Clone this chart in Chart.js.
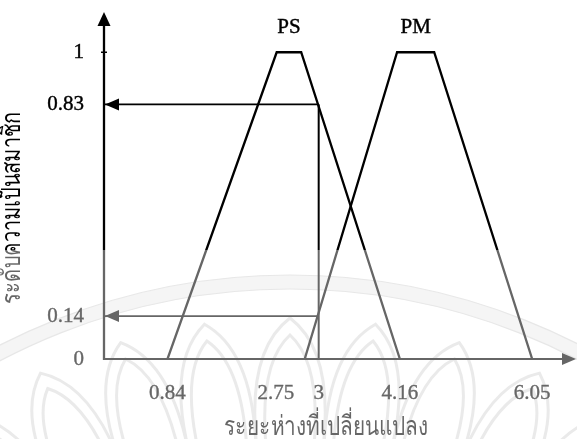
<!DOCTYPE html>
<html>
<head>
<meta charset="utf-8">
<script src="https://cdn.jsdelivr.net/npm/chart.js@4/dist/chart.umd.min.js"></script>
<style>
  html, body { margin: 0; padding: 0; background: #fff; }
  #wrap { width: 577px; height: 439px; }
</style>
</head>
<body>
<div id="wrap"><canvas id="c" width="577" height="439"></canvas></div>
<script>
// Membership functions (x = distance change, mu = degree of membership)
const psX  = [0.84, 2.4, 2.75, 4.16];
const psMu = [0, 1, 1, 0];
const pmX  = [2.8, 4.12, 4.65, 6.05];
const pmMu = [0, 1, 1, 0];
const setNames = ['PS', 'PM'];

// Crisp input and the membership degrees it produces
const inputX = 3;
const inputMu = [0.83, 0.14];

// Axis tick labels and titles
const xTickValues = [0.84, 2.75, 3, 4.16, 6.05];
const yTickValues = [0, 0.14, 0.83, 1];
const xTitle = 'ระยะห่างที่เปลี่ยนแปลง';
const yTitle = 'ระดับความเป็นสมาชิก';

const X_MIN = -0.067, X_MAX = 6.676;
const Y_MIN = 0, Y_MAX = 1.128;
const SERIF = '"Liberation Serif", "Times New Roman", serif';

function pts(xs, ys) { return xs.map((x, i) => ({ x: x, y: ys[i] })); }

const lineBase = { showLine: true, pointRadius: 0, tension: 0, fill: false, borderColor: '#000' };

const datasets = [
  Object.assign({}, lineBase, { label: setNames[0], data: pts(psX, psMu), borderWidth: 2.3 }),
  Object.assign({}, lineBase, { label: setNames[1], data: pts(pmX, pmMu), borderWidth: 2.3 }),
  Object.assign({}, lineBase, { label: 'input', data: [{ x: inputX, y: 0 }, { x: inputX, y: inputMu[0] }], borderWidth: 2 }),
  Object.assign({}, lineBase, { label: 'muPS', data: [{ x: inputX, y: inputMu[0] }, { x: X_MIN, y: inputMu[0] }], borderWidth: 1.7 }),
  Object.assign({}, lineBase, { label: 'muPM', data: [{ x: inputX, y: inputMu[1] }, { x: X_MIN, y: inputMu[1] }], borderWidth: 1.7 })
];

function tri(ctx, a, b, c) {
  ctx.beginPath();
  ctx.moveTo(a[0], a[1]); ctx.lineTo(b[0], b[1]); ctx.lineTo(c[0], c[1]);
  ctx.closePath(); ctx.fill();
}

function heavyText(ctx, txt, x, y) {
  ctx.fillText(txt, x, y);
  ctx.strokeText(txt, x, y);
}

// Thai title squeezed horizontally to a given run length
function fittedText(ctx, txt, cx, cy, rot, len) {
  ctx.save();
  ctx.translate(cx, cy);
  ctx.rotate(rot);
  const w = ctx.measureText(txt).width;
  ctx.scale(len / w, 1);
  ctx.textAlign = 'center';
  ctx.textBaseline = 'middle';
  ctx.fillText(txt, 0, 0);
  ctx.restore();
}

// Faint seal printed behind the lower half of the page
const sealPlugin = {
  id: 'seal',
  beforeDraw(chart) {
    const ctx = chart.ctx;
    ctx.save();
    ctx.fillStyle = '#fff';
    ctx.fillRect(0, 0, chart.width, chart.height);
    const cx = 290, cy = 910;
    ctx.beginPath();
    ctx.arc(cx, cy, 635, 0, Math.PI * 2);
    ctx.arc(cx, cy, 621, 0, Math.PI * 2, true);
    ctx.fillStyle = '#eeeeee';
    ctx.fill();
    ctx.strokeStyle = '#d8d8d8';
    ctx.lineWidth = 1.2;
    ctx.beginPath(); ctx.arc(cx, cy, 635, 0, Math.PI * 2); ctx.stroke();
    ctx.beginPath(); ctx.arc(cx, cy, 621, 0, Math.PI * 2); ctx.stroke();
    // lotus petals
    const petal = (ang, rTip, rBase, half) => {
      const p = (r, a) => [cx + r * Math.sin(a), cy - r * Math.cos(a)];
      const tip = p(rTip, ang), l = p(rBase, ang - half), r = p(rBase, ang + half);
      const cl = p(rBase + (rTip - rBase) * 0.75, ang - half * 1.05);
      const cr = p(rBase + (rTip - rBase) * 0.75, ang + half * 1.05);
      ctx.beginPath();
      ctx.moveTo(l[0], l[1]);
      ctx.quadraticCurveTo(cl[0], cl[1], tip[0], tip[1]);
      ctx.quadraticCurveTo(cr[0], cr[1], r[0], r[1]);
      ctx.stroke();
    };
    ctx.strokeStyle = '#dcdcdc';
    ctx.lineWidth = 3;
    for (let k = -4; k <= 4; k++) {
      const a = k * 0.145;
      petal(a, 592, 470, 0.072);
      petal(a, 575, 470, 0.052);
    }
    ctx.restore();
  }
};

// Axes with arrowheads, guide arrows, set names, labels, titles and the faded lower band
const decorPlugin = {
  id: 'decor',
  afterDatasetsDraw(chart) {
    const ctx = chart.ctx;
    const xs = chart.scales.x, ys = chart.scales.y;
    const x0 = xs.left, y0 = ys.bottom;
    ctx.save();
    ctx.strokeStyle = '#000'; ctx.fillStyle = '#000';
    // y axis
    ctx.lineWidth = 2.3;
    ctx.beginPath(); ctx.moveTo(x0, y0 + 1); ctx.lineTo(x0, ys.top + 8); ctx.stroke();
    tri(ctx, [x0, ys.top - 1], [x0 - 6.5, ys.top + 13], [x0 + 6.5, ys.top + 13]);
    // tick mark at mu = 1
    const y1 = ys.getPixelForValue(1);
    ctx.lineWidth = 1.5;
    ctx.beginPath(); ctx.moveTo(x0 - 3, y1); ctx.lineTo(x0 + 3, y1); ctx.stroke();
    // x axis
    ctx.lineWidth = 2;
    ctx.beginPath(); ctx.moveTo(x0 - 1, y0); ctx.lineTo(xs.right - 8, y0); ctx.stroke();
    tri(ctx, [xs.right, y0], [xs.right - 14, y0 - 6], [xs.right - 14, y0 + 6]);
    // arrowheads of the membership guides
    inputMu.forEach(m => {
      const yy = ys.getPixelForValue(m);
      tri(ctx, [x0 + 1, yy], [x0 + 15, yy - 6], [x0 + 15, yy + 6]);
    });
    // set names above each plateau
    ctx.font = '21px ' + SERIF;
    ctx.lineWidth = 0.4;
    ctx.textAlign = 'center';
    ctx.textBaseline = 'middle';
    [[psX, setNames[0]], [pmX, setNames[1]]].forEach(([xv, name]) => {
      const mid = (xv[1] + xv[2]) / 2;
      heavyText(ctx, name, xs.getPixelForValue(mid), 27);
    });
    // x tick labels
    xTickValues.forEach(v => {
      const px = xs.getPixelForValue(v);
      const txt = String(v);
      if (v === 2.75) { ctx.textAlign = 'right'; heavyText(ctx, txt, px - 7, y0 + 34); }
      else { ctx.textAlign = 'center'; heavyText(ctx, txt, px, y0 + 34); }
    });
    // axis titles
    ctx.font = '27px ' + SERIF;
    fittedText(ctx, xTitle, 326, y0 + 69, 0, 205);
    fittedText(ctx, yTitle, 13, 208, -Math.PI / 2, 192);
    ctx.restore();
  },
  afterDraw(chart) {
    const ctx = chart.ctx;
    ctx.save();
    ctx.fillStyle = 'rgba(255,255,255,0.4)';
    ctx.fillRect(0, 250, chart.width, chart.height - 250);
    ctx.restore();
  }
};

new Chart(document.getElementById('c'), {
  type: 'scatter',
  data: { datasets: datasets },
  options: {
    responsive: false,
    animation: false,
    events: [],
    layout: { padding: { top: 13, right: 1, left: 0, bottom: 0 } },
    plugins: { legend: { display: false }, tooltip: { enabled: false } },
    scales: {
      x: {
        type: 'linear', min: X_MIN, max: X_MAX,
        grid: { display: false }, border: { display: false },
        ticks: { display: false },
        title: { display: false },
        afterFit(s) { s.height = 80; s.paddingLeft = 0; s.paddingRight = 0; }
      },
      y: {
        type: 'linear', min: Y_MIN, max: Y_MAX,
        grid: { display: false, drawTicks: false }, border: { display: false },
        afterBuildTicks(s) { s.ticks = yTickValues.map(v => ({ value: v })); },
        ticks: {
          color: '#000', padding: 20,
          font: { family: SERIF, size: 21 },
          textStrokeColor: '#000', textStrokeWidth: 0.4,
          callback: v => String(v)
        },
        title: { display: false },
        afterFit(s) { s.width = 104; s.paddingTop = 0; s.paddingBottom = 0; }
      }
    }
  },
  plugins: [sealPlugin, decorPlugin]
});
</script>
</body>
</html>
